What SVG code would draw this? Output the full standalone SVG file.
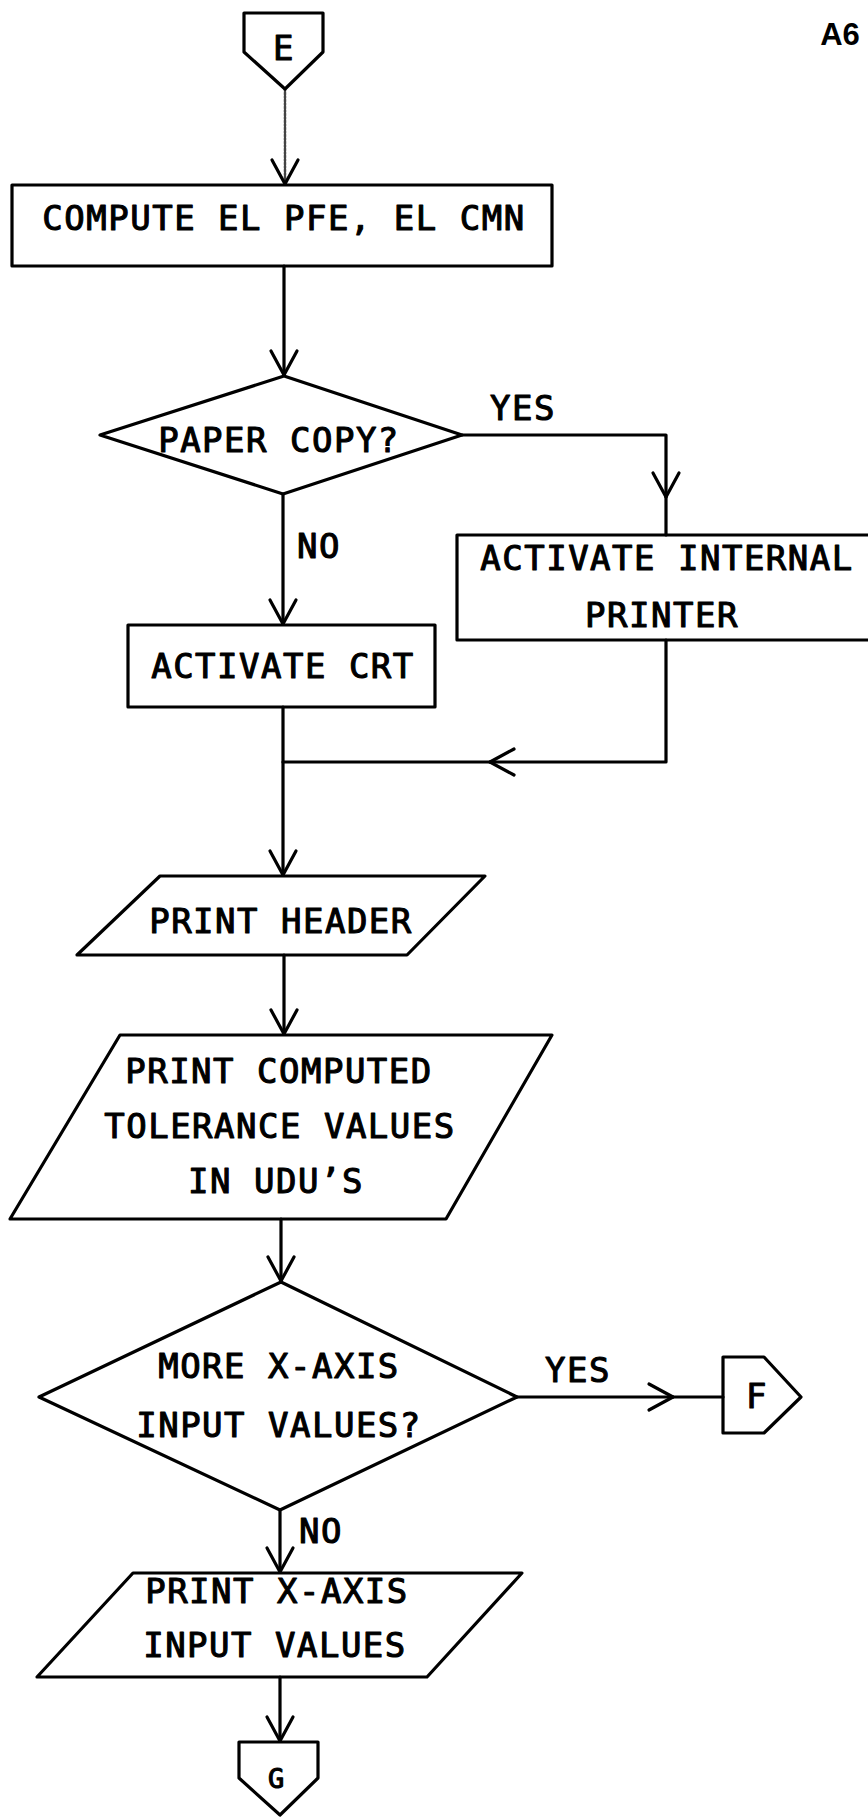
<svg xmlns="http://www.w3.org/2000/svg" width="868" height="1818" viewBox="0 0 868 1818">
  <style>
    .shape { fill: none; stroke: #000; stroke-width: 3.2; stroke-linejoin: round; stroke-linecap: round; }
    .edge { fill: none; stroke: #000; stroke-width: 3.2; stroke-linejoin: round; stroke-linecap: round; }
    .faint { stroke: #444; stroke-width: 2.5; stroke-dasharray: 2 1.5; }
    .lbl { font-family: "DejaVu Sans Mono", "Liberation Mono", monospace; font-size: 34px; letter-spacing: 1.5px; fill: #000; stroke: #000; stroke-width: 1.1; stroke-linejoin: round; text-anchor: middle; }
    .page { font-family: "Liberation Sans", Arial, sans-serif; font-weight: bold; font-size: 31px; fill: #000; text-anchor: middle; }
  </style>
  <defs>
    <marker id="vhead" viewBox="-27 -16 30 32" markerWidth="30" markerHeight="32" refX="0" refY="0" orient="auto" markerUnits="userSpaceOnUse">
      <path d="M-24,-13 L0,0 L-24,13" fill="none" stroke="#000" stroke-width="3.2" stroke-linecap="round" stroke-linejoin="round"/>
    </marker>
  </defs>

  <rect width="868" height="1818" fill="#fff"/>

  <text class="page" x="840" y="45">A6</text>

  <!-- flow lines -->
  <g id="connectors">
    <path class="edge faint" d="M285,89 V184" marker-end="url(#vhead)"/>
    <path class="edge" d="M284,266 V375" marker-end="url(#vhead)"/>
    <path class="edge" d="M462,435 H666 V497" marker-end="url(#vhead)"/>
    <path class="edge" d="M666,497 V535"/>
    <path class="edge" d="M283,494 V624" marker-end="url(#vhead)"/>
    <path class="edge" d="M283,707 V875" marker-end="url(#vhead)"/>
    <path class="edge" d="M666,640 V762 H490" marker-end="url(#vhead)"/>
    <path class="edge" d="M490,762 H283"/>
    <path class="edge" d="M284,955 V1034" marker-end="url(#vhead)"/>
    <path class="edge" d="M281,1219 V1281" marker-end="url(#vhead)"/>
    <path class="edge" d="M517,1397 H673" marker-end="url(#vhead)"/>
    <path class="edge" d="M673,1397 H723"/>
    <path class="edge" d="M280,1510 V1572" marker-end="url(#vhead)"/>
    <path class="edge" d="M280,1677 V1741" marker-end="url(#vhead)"/>
    <text class="lbl" x="523" y="420">YES</text>
    <text class="lbl" x="319" y="558">NO</text>
    <text class="lbl" x="578" y="1382">YES</text>
    <text class="lbl" x="321" y="1543">NO</text>
  </g>

  <g id="conn-e">
    <polygon class="shape" points="244,13 323,13 323,52 285,89 244,52"/>
    <text class="lbl" x="284" y="60">E</text>
  </g>

  <g id="compute-el">
    <rect class="shape" x="12" y="185" width="540" height="81"/>
    <text class="lbl" x="284" y="230">COMPUTE EL PFE, EL CMN</text>
  </g>

  <g id="paper-copy">
    <polygon class="shape" points="284,376 462,435 283,494 100,435"/>
    <text class="lbl" x="279" y="452">PAPER COPY?</text>
  </g>

  <g id="internal-printer">
    <rect class="shape" x="457" y="535" width="430" height="105"/>
    <text class="lbl" x="667" y="570">ACTIVATE INTERNAL</text>
    <text class="lbl" x="662" y="627">PRINTER</text>
  </g>

  <g id="activate-crt">
    <rect class="shape" x="128" y="625" width="307" height="82"/>
    <text class="lbl" x="283" y="678">ACTIVATE CRT</text>
  </g>

  <g id="print-header">
    <polygon class="shape" points="160,876 485,876 407,955 77,955"/>
    <text class="lbl" x="281" y="933">PRINT HEADER</text>
  </g>

  <g id="print-tolerances">
    <polygon class="shape" points="120,1035 552,1035 446,1219 10,1219"/>
    <text class="lbl" x="279" y="1083">PRINT COMPUTED</text>
    <text class="lbl" x="280" y="1138">TOLERANCE VALUES</text>
    <text class="lbl" x="276" y="1193">IN UDU’S</text>
  </g>

  <g id="more-values">
    <polygon class="shape" points="281,1282 517,1397 280,1510 39,1397"/>
    <text class="lbl" x="279" y="1378">MORE X-AXIS</text>
    <text class="lbl" x="279" y="1437">INPUT VALUES?</text>
  </g>

  <g id="conn-f">
    <polygon class="shape" points="723,1357 764,1357 801,1397 764,1433 723,1433"/>
    <text class="lbl" x="757" y="1408">F</text>
  </g>

  <g id="print-inputs">
    <polygon class="shape" points="133,1573 522,1573 427,1677 37,1677"/>
    <text class="lbl" x="277" y="1603">PRINT X-AXIS</text>
    <text class="lbl" x="275" y="1657">INPUT VALUES</text>
  </g>

  <g id="conn-g">
    <polygon class="shape" points="239,1742 318,1742 318,1778 280,1815 239,1778"/>
    <text class="lbl" x="277" y="1788" style="font-size:27px">G</text>
  </g>
</svg>
